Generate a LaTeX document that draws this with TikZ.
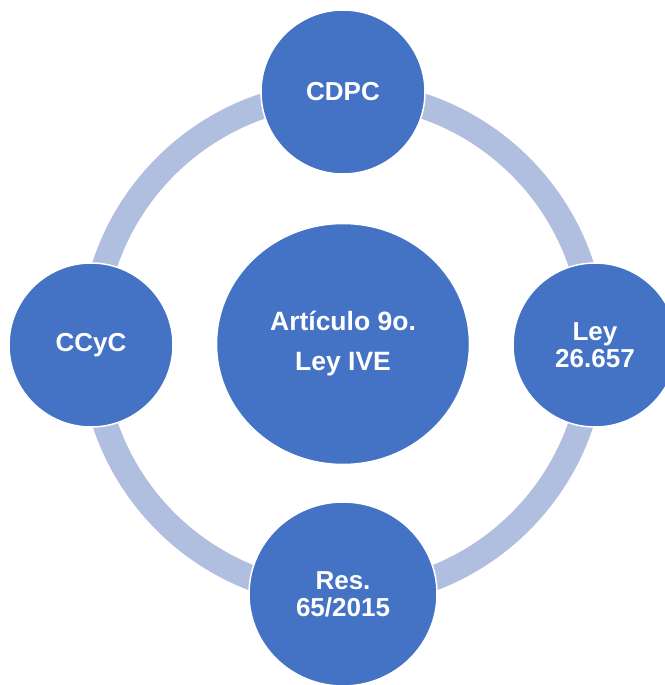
\documentclass[tikz,border=0pt]{standalone}
\usepackage{fontspec}
\setmainfont{Liberation Sans}
\usetikzlibrary{shapes.geometric, positioning}
\definecolor{cycleblue}{HTML}{4472C4}
\definecolor{ringblue}{HTML}{B0BEE0}

\begin{document}
\begin{tikzpicture}[x=1pt, y=-1pt, satnode/.style={circle, draw=white, line width=1.5pt, fill=cycleblue, text=white, font=\bfseries\fontsize{26}{27}\selectfont, align=center, minimum size=164pt, inner sep=0pt}, bignode/.style={ellipse, draw=white, line width=1.5pt, fill=cycleblue, text=white, font=\bfseries\fontsize{26.5}{40}\selectfont, align=center, minimum width=253pt, minimum height=241pt, inner sep=0pt}, ring/.style={draw=ringblue, line width=25pt}]

    \useasboundingbox[fill=white] (0,0) rectangle (664,685);

    %Nodes
    \node[bignode](center) at (343,344){Artículo 9o.\\Ley IVE};

    %Ring
    \draw[ring] (center.center) circle[radius=251];

    \node[satnode](cdpc) at (343,92){CDPC};
    \node[satnode](ley) at (595,345){Ley\\26.657};
    \node[satnode, ellipse, minimum width=188pt, minimum height=184pt](res) at (343,594){Res.\\65/2015};
    \node[satnode](ccyc) at (91,345){CCyC};

\end{tikzpicture}
\end{document}
